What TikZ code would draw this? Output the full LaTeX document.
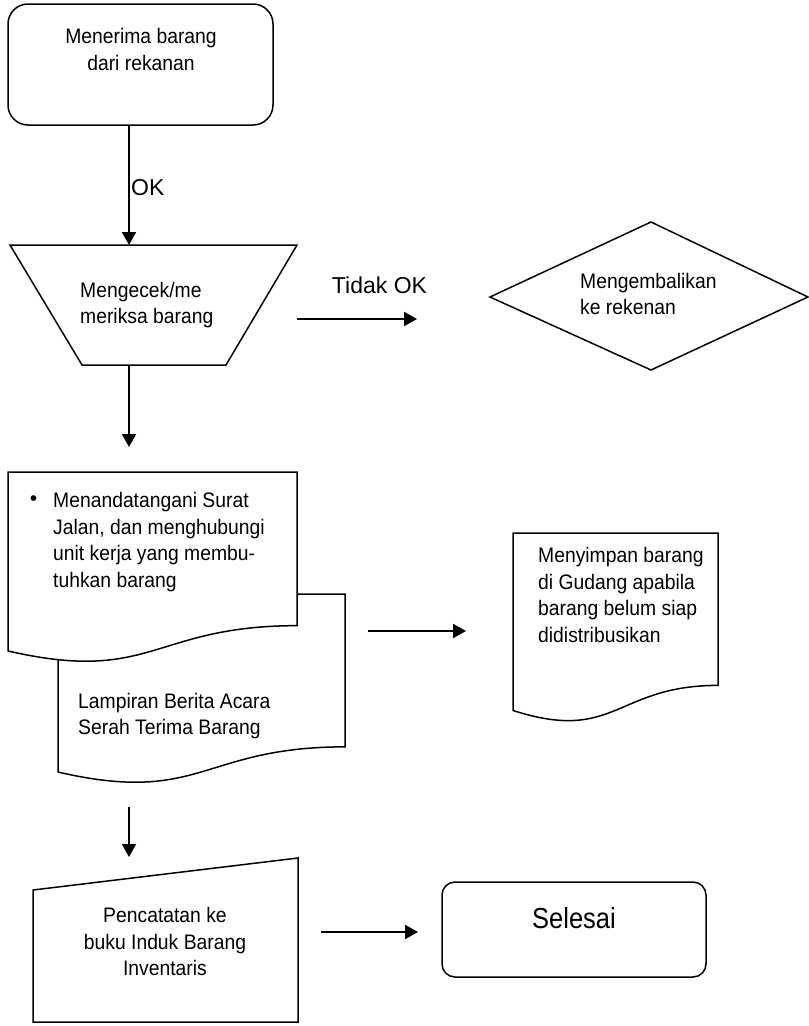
\documentclass[tikz,border=0pt]{standalone}
\usepackage{fontspec}
\usepackage{graphicx}
\setmainfont{Liberation Sans}
\usetikzlibrary{arrows.meta}
\tikzset{
  shp/.style={draw=black, line width=1.5pt, fill=white, line join=miter},
  arr/.style={line width=2pt, -{Triangle[length=13pt,width=14pt]}},
  txt/.style={font=\fontsize{21}{26.5}\selectfont, inner sep=0pt},
  lbl/.style={font=\fontsize{23}{27}\selectfont, inner sep=0pt},
  bigtxt/.style={font=\fontsize{29}{33}\selectfont, inner sep=0pt},
}
\newcommand{\ntx}[3][0.92]{\scalebox{#1}[1]{\begin{tabular}{@{}#2@{}}#3\end{tabular}}}
\newcommand{\wavedoc}[4]{%
  \pgfmathsetmacro\wdR{#1+#3}\pgfmathsetmacro\wdM{#1+0.5*#3}%
  \pgfmathsetmacro\wdYr{#2+0.802*#4}\pgfmathsetmacro\wdYc{#2+1.108*#4}\pgfmathsetmacro\wdYl{#2+0.934*#4}%
  \draw[shp] (#1,#2) -- (\wdR,#2) -- (\wdR,\wdYr) .. controls (\wdM,\wdYr) and (\wdM,\wdYc) .. (#1,\wdYl) -- cycle;}
\begin{document}
\begin{tikzpicture}[x=1pt,y=-1pt]
\useasboundingbox (0,0) rectangle (809,1026);

% start box
\node[shp, rounded corners=20pt, minimum width=265pt, minimum height=121pt, inner sep=0pt] (start) at (140.5,64.5) {};
\node[txt] (tstart) at (141,51.5) {\ntx{c}{Menerima barang\\dari rekanan}};

% check (trapezoid)
\draw[shp] (10,245) -- (297,245) -- (226,365) -- (82,365) -- cycle;
\coordinate (chkN) at (129,245);
\coordinate (chkS) at (129,365);
\coordinate (chkE) at (297,319);
\node[txt, anchor=west] (tcheck) at (80,305) {\ntx{l}{Mengecek/me\\meriksa barang}};

% return (diamond)
\draw[shp] (490,297) -- (651,222) -- (808,297) -- (651,370) -- cycle;
\node[txt, anchor=west] (treturn) at (580,296) {\ntx{l}{Mengembalikan\\ke rekenan}};

% documents
\wavedoc{58}{594}{287}{190.6}
\wavedoc{8}{472}{289}{191.6}
\node[txt, anchor=center] (bullet) at (33.5,501) {\textbullet};
\node[txt, anchor=west] (tsign) at (53,542) {\ntx{l}{Menandatangani Surat\\Jalan, dan menghubungi\\unit kerja yang membu-\\tuhkan barang}};
\node[txt, anchor=west] (tlamp) at (78,716) {\ntx{l}{Lampiran Berita Acara\\Serah Terima Barang}};
\coordinate (docS) at (129,807);
\coordinate (docE) at (368,631);

\wavedoc{513}{533}{205}{190}
\node[txt, anchor=west] (tstore) at (538,597) {\ntx{l}{Menyimpan barang\\di Gudang apabila\\barang belum siap\\didistribusikan}};
\coordinate (storeW) at (466,631);

% manual input
\draw[shp] (33,890) -- (298,858) -- (298,1022) -- (33,1022) -- cycle;
\coordinate (recN) at (129,857);
\coordinate (recE) at (321,932);
\node[txt] (trec) at (165,944) {\ntx{c}{Pencatatan ke\\buku Induk Barang\\Inventaris}};

% end
\node[shp, rounded corners=13pt, minimum width=264pt, minimum height=95pt, inner sep=0pt] (end) at (574,929.5) {};
\node[bigtxt] (tend) at (574,918) {\scalebox{0.88}[1]{Selesai}};
\coordinate (endW) at (418,932);

% connectors
\draw[arr] (chkN |- start.south) -- (chkN);
\node[lbl, anchor=west] (ok) at (131,188) {OK};
\draw[arr] (chkS) -- (129,447) coordinate (signN);
\draw[arr] (chkE) -- (417,319) coordinate (retW);
\node[lbl] (tidak) at (379.5,285) {Tidak OK};
\draw[arr] (docE) -- (storeW);
\draw[arr] (docS) -- (recN);
\draw[arr] (recE) -- (endW);
\end{tikzpicture}
\end{document}
